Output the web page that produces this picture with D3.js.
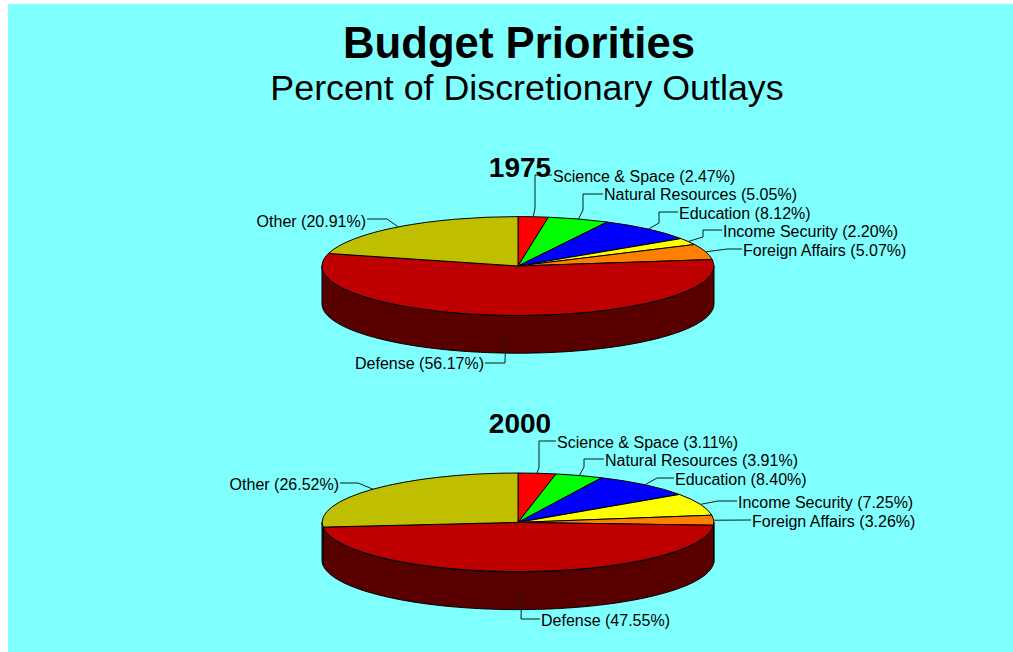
<!DOCTYPE html>
<html>
<head>
<meta charset="utf-8">
<title>Budget Priorities</title>
<script src="https://cdn.jsdelivr.net/npm/d3@7"></script>
<style>
  html, body { margin: 0; padding: 0; background: #fff; }
  svg { display: block; }
  text { font-family: "Liberation Sans", Arial, sans-serif; fill: #000; }
</style>
</head>
<body>
<svg id="chart" width="1013" height="652"></svg>
<script>
// Budget shares, percent of discretionary outlays
const categories = ["Science & Space", "Natural Resources", "Education", "Income Security", "Foreign Affairs", "Defense", "Other"];
const shares1975 = [2.47, 5.05, 8.12, 2.20, 5.07, 56.17, 20.91];
const shares2000 = [3.11, 3.91, 8.40, 7.25, 3.26, 47.55, 26.52];

// Slice colours: top face, then the darker rim
const topColors = ["#ff0000", "#00ff00", "#0000ff", "#ffff00", "#ff8000", "#bf0000", "#bfbf00"];
const rimColors = ["#600000", "#006000", "#000060", "#606000", "#603000", "#580000", "#585800"];

// Label placement: text anchor point, then the leader's elbows running back from the label
const layout1975 = [
  { x: 553, y: 176, side: "start", bends: [[552, 175], [535, 175], [535, 208]] },
  { x: 604, y: 194, side: "start", bends: [[603, 194], [583, 194], [583, 210]] },
  { x: 679, y: 213, side: "start", bends: [[678, 212], [659, 212], [659, 223]] },
  { x: 723, y: 231, side: "start", bends: [[722, 230], [703, 230], [703, 237]] },
  { x: 743, y: 250, side: "start", bends: [[742, 249], [727, 249]] },
  { x: 484, y: 363, side: "end",   bends: [[485, 363], [505, 363]] },
  { x: 366, y: 221, side: "end",   bends: [[367, 219], [387, 219]] }
];
const layout2000 = [
  { x: 557, y: 442, side: "start", bends: [[556, 441], [539, 441], [539, 467]] },
  { x: 605, y: 460, side: "start", bends: [[604, 459], [584, 459], [584, 467]] },
  { x: 675, y: 479, side: "start", bends: [[674, 478], [657, 478]] },
  { x: 738, y: 502, side: "start", bends: [[737, 501], [718, 501]] },
  { x: 752, y: 521, side: "start", bends: [[751, 520]] },
  { x: 541, y: 620, side: "start", bends: [[540, 619], [521, 619]] },
  { x: 339, y: 484, side: "end",   bends: [[340, 483], [358, 483]] }
];

const charts = [
  { year: "1975", shares: shares1975, layout: layout1975, cy: 266, yearY: 177 },
  { year: "2000", shares: shares2000, layout: layout2000, cy: 522.4, yearY: 433 }
];

const cx = 518, rx = 196, ry = 49.4, depth = 37.8;
const svg = d3.select("#chart");

svg.append("rect").attr("x", 8).attr("y", 4).attr("width", 1005).attr("height", 648).attr("fill", "#80ffff");

svg.append("text").attr("x", 519).attr("y", 58).attr("text-anchor", "middle")
  .attr("font-size", 43.7).attr("font-weight", "bold").text("Budget Priorities");
svg.append("text").attr("x", 527).attr("y", 100).attr("text-anchor", "middle")
  .attr("font-size", 35.8).text("Percent of Discretionary Outlays");

const pie = d3.pie().sort(null).value(d => d).startAngle(0).endAngle(2 * Math.PI);
const unitArc = d3.arc().innerRadius(0).outerRadius(1);

charts.forEach(chart => {
  const g = svg.append("g");
  const slices = pie(chart.shares);
  const xAt = d3.scaleLinear().domain([-1, 1]).range([cx - rx, cx + rx]);
  const yAt = d3.scaleLinear().domain([-1, 1]).range([chart.cy + ry, chart.cy - ry]);

  // Rim: only the part of each slice that faces the viewer
  const rim = d3.area().x(a => xAt(Math.sin(a)))
    .y0(a => yAt(Math.cos(a))).y1(a => yAt(Math.cos(a)) + depth);
  slices.forEach((s, i) => {
    const from = Math.max(s.startAngle, Math.PI / 2);
    const to = Math.min(s.endAngle, 3 * Math.PI / 2);
    if (to <= from) return;
    const angles = d3.range(from, to, Math.PI / 180).concat([to]);
    g.append("path").attr("d", rim(angles)).attr("fill", rimColors[i])
      .attr("stroke", "#000").attr("stroke-width", 1);
  });

  // Top face: unit circle squashed into an ellipse
  g.selectAll("path.top").data(slices).join("path").attr("class", "top")
    .attr("d", unitArc)
    .attr("transform", `translate(${cx},${chart.cy}) scale(${rx},${ry})`)
    .attr("fill", (d, i) => topColors[i])
    .attr("stroke", "#000").attr("stroke-width", 1)
    .attr("stroke-linejoin", "round")
    .attr("vector-effect", "non-scaling-stroke");

  // Leaders run from the middle of each slice's outer edge out to its label
  const leader = d3.line();
  slices.forEach((s, i) => {
    const mid = (s.startAngle + s.endAngle) / 2;
    const ax = xAt(Math.sin(mid));
    const onRim = Math.cos(mid) < -0.9;
    const ay = yAt(Math.cos(mid)) + (onRim ? depth / 2 : 0);
    const place = chart.layout[i];
    g.append("path").attr("d", leader(place.bends.concat([[ax, ay]])))
      .attr("fill", "none").attr("stroke", "#0b1f1f").attr("stroke-width", 1);
    g.append("text").attr("x", place.x).attr("y", place.y)
      .attr("dy", "0.36em").attr("text-anchor", place.side).attr("font-size", 16)
      .text(`${categories[i]} (${chart.shares[i].toFixed(2)}%)`);
  });

  g.append("text").attr("x", 520).attr("y", chart.yearY).attr("text-anchor", "middle")
    .attr("font-size", 28).attr("font-weight", "bold").text(chart.year);
});
</script>
</body>
</html>
